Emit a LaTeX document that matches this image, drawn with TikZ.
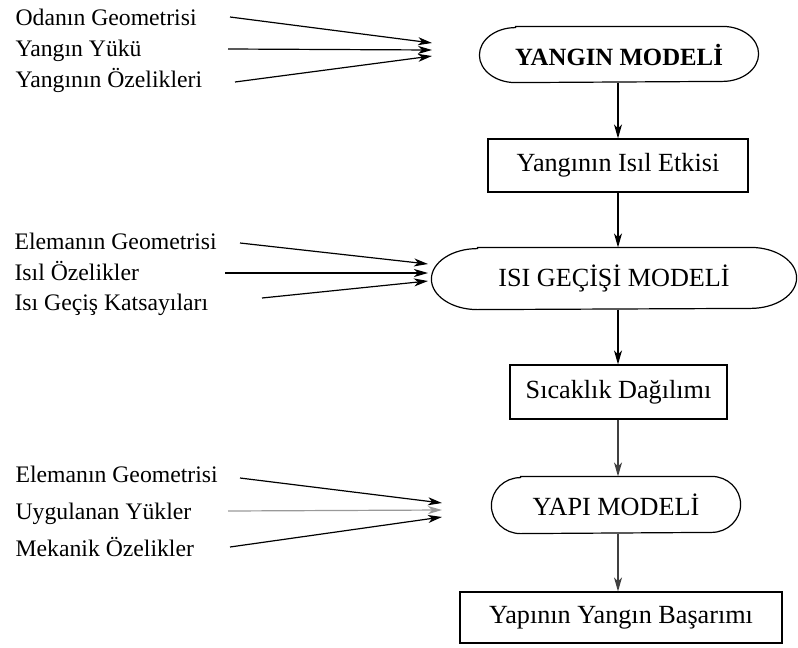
\documentclass[tikz,border=0pt]{standalone}
\usepackage{fontspec}
\setmainfont{Liberation Serif}
\usetikzlibrary{arrows.meta}

\begin{document}
\begin{tikzpicture}[x=1pt, y=-1pt, line width=1.2pt,
    font=\fontsize{23.7}{28}\selectfont,
    ok/.style={-{Stealth[length=14pt, width=8pt, inset=4pt]}},
    girdi/.style={anchor=base west, inner sep=0pt},
    kutu/.style={draw, minimum width=#1, minimum height=53pt, inner sep=0pt,
      font=\fontsize{26.2}{30}\selectfont},
    model/.style={minimum height=55pt, inner sep=0pt,
      font=\fontsize{26.2}{30}\selectfont}]
  \useasboundingbox (0,0) rectangle (798,648);

  % ana akis
  \node[model, minimum width=278pt, font=\fontsize{24.8}{30}\selectfont\bfseries] (ym) at (619,54.5) {YANGIN MODELİ};
  \node[kutu=260pt] (yie) at (618,165.5) {Yangının Isıl Etkisi};
  \node[model, minimum width=364pt, minimum height=61pt] (igm) at (614,278.5) {ISI GEÇİŞİ MODELİ};
  \node[kutu=217pt, minimum height=54pt] (sd) at (618.5,392) {Sıcaklık Dağılımı};
  \node[model, minimum width=248pt, minimum height=56pt] (ypm) at (616,505) {YAPI MODELİ};
  \node[kutu=322pt, minimum height=51pt] (yyb) at (621,617.5) {Yapının Yangın Başarımı};

  % model cerceveleri (eliptik uclu)
  \foreach \n/\r/\h in {ym/36/27.5, igm/46/30.5, ypm/29/28}
    \draw ([xshift=\r pt]\n.north west) -- ([xshift=-\r pt]\n.north east)
      arc[start angle=90, end angle=-90, x radius=\r pt, y radius=\h pt]
      -- ([xshift=\r pt]\n.south west)
      arc[start angle=270, end angle=90, x radius=\r pt, y radius=\h pt] -- cycle;

  \draw[ok] (ym.south -| 618,0) -- (yie.north -| 618,0);
  \draw[ok] (yie.south -| 618,0) -- (igm.north -| 618,0);
  \draw[ok] (igm.south -| 618,0) -- (sd.north -| 618,0);
  \draw[ok, black!75] (sd.south -| 618,0) -- (ypm.north -| 618,0);
  \draw[ok, black!75] (ypm.south -| 618,0) -- (yyb.north -| 618,0);

  % yangin modeli girdileri
  \node[girdi] (og) at (15,25) {Odanın Geometrisi};
  \node[girdi] (yy) at (15,56) {Yangın Yükü};
  \node[girdi] (yo) at (15,87) {Yangının Özelikleri};
  \coordinate (og1) at (230,17);  \coordinate (og2) at (432,43);
  \coordinate (yy1) at (228,49);  \coordinate (yy2) at (432,50);
  \coordinate (yo1) at (235,82);  \coordinate (yo2) at (432,56);
  \draw[ok] (og1) -- (og2);
  \draw[ok] (yy1) -- (yy2);
  \draw[ok] (yo1) -- (yo2);

  % isi gecisi modeli girdileri
  \node[girdi] (eg) at (14,249) {Elemanın Geometrisi};
  \node[girdi] (io) at (14,280) {Isıl Özelikler};
  \node[girdi] (igk) at (14,310) {Isı Geçiş Katsayıları};
  \coordinate (eg1) at (240,243);  \coordinate (eg2) at (428,264);
  \coordinate (io1) at (225,273);  \coordinate (io2) at (428,273);
  \coordinate (igk1) at (262,298); \coordinate (igk2) at (428,281);
  \draw[ok] (eg1) -- (eg2);
  \draw[ok] (io1) -- (io2);
  \draw[ok] (igk1) -- (igk2);

  % yapi modeli girdileri
  \node[girdi] (eg3) at (15,482) {Elemanın Geometrisi};
  \node[girdi] (uy) at (15,519) {Uygulanan Yükler};
  \node[girdi] (mo) at (15,556) {Mekanik Özelikler};
  \coordinate (eg31) at (240,478); \coordinate (eg32) at (442,503);
  \coordinate (uy1) at (228,511);  \coordinate (uy2) at (442,510);
  \coordinate (mo1) at (230,547);  \coordinate (mo2) at (442,517);
  \draw[ok] (eg31) -- (eg32);
  \draw[ok, black!40] (uy1) -- (uy2);
  \draw[ok] (mo1) -- (mo2);
\end{tikzpicture}
\end{document}
